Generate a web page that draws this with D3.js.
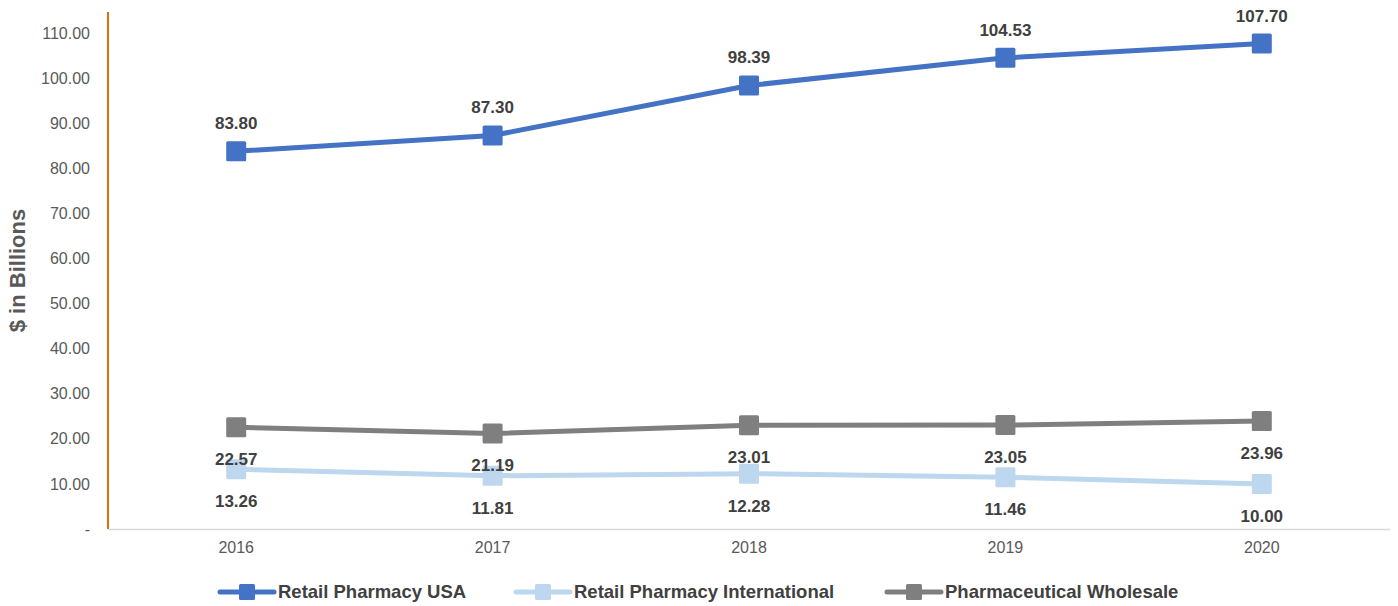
<!DOCTYPE html>
<html>
<head>
<meta charset="utf-8">
<script src="https://cdn.jsdelivr.net/npm/d3@7"></script>
<style>
  body { margin: 0; background: #fff; }
  text { font-family: "Liberation Sans", Arial, sans-serif; }
</style>
</head>
<body>
<div id="chart"></div>
<script>
// chart data
const years = ["2016", "2017", "2018", "2019", "2020"];
const seriesNames = ["Retail Pharmacy USA", "Retail Pharmacy International", "Pharmaceutical Wholesale"];
const retailUSA = [83.80, 87.30, 98.39, 104.53, 107.70];
const retailIntl = [13.26, 11.81, 12.28, 11.46, 10.00];
const wholesale = [22.57, 21.19, 23.01, 23.05, 23.96];
const yTicks = [0, 10, 20, 30, 40, 50, 60, 70, 80, 90, 100, 110];

const colors = ["#4472C4", "#BDD7EE", "#7F7F7F"];
const labelPos = ["above", "below", "below"];
const allSeries = [retailUSA, retailIntl, wholesale];

const width = 1398, height = 606;
const margin = { top: 12, right: 8, bottom: 77, left: 108 };

const svg = d3.select("#chart")
    .append("svg")
    .attr("width", width)
    .attr("height", height);

const x = d3.scaleBand()
    .domain(years)
    .range([margin.left, width - margin.right]);

const y = d3.scaleLinear()
    .domain([0, 114.7])
    .range([height - margin.bottom, margin.top]);

// y axis tick labels
const yAxis = svg.append("g")
    .attr("transform", "translate(" + margin.left + ",0)")
    .call(d3.axisLeft(y).tickValues(yTicks).tickSize(0).tickPadding(18)
        .tickFormat(d => d === 0 ? "-" : d3.format(".2f")(d)));
yAxis.select(".domain").remove();
yAxis.selectAll("text")
    .style("font-size", "16px")
    .attr("fill", "#595959");

// x axis
const xAxis = svg.append("g")
    .attr("transform", "translate(0," + y(0) + ")")
    .call(d3.axisBottom(x).tickSize(0).tickPadding(13));
xAxis.select(".domain").attr("stroke", "#d9d9d9").attr("stroke-width", 1.5);
xAxis.selectAll("text")
    .style("font-size", "16px")
    .attr("fill", "#595959");

// orange vertical axis line
svg.append("line")
    .attr("x1", margin.left).attr("x2", margin.left)
    .attr("y1", margin.top).attr("y2", y(0))
    .attr("stroke", "#E46C0A")
    .attr("stroke-width", 2);

// y axis title
svg.append("text")
    .attr("transform", "translate(25," + ((margin.top + y(0)) / 2) + ") rotate(-90)")
    .attr("text-anchor", "middle")
    .style("font-size", "22px")
    .style("font-weight", "bold")
    .attr("fill", "#595959")
    .text("$ in Billions");

const line = d3.line()
    .x((d, i) => x(years[i]) + x.bandwidth() / 2)
    .y(d => y(d));

// draw wholesale first, then intl, then usa on top
[2, 1, 0].forEach(function (s) {
    const vals = allSeries[s];
    const g = svg.append("g");
    g.append("path")
        .datum(vals)
        .attr("d", line)
        .attr("fill", "none")
        .attr("stroke", colors[s])
        .attr("stroke-width", 5);
    g.selectAll("rect")
        .data(vals)
        .join("rect")
        .attr("x", (d, i) => x(years[i]) + x.bandwidth() / 2 - 10)
        .attr("y", d => y(d) - 10)
        .attr("width", 20)
        .attr("height", 20)
        .attr("rx", 1.5)
        .attr("fill", colors[s]);
});

// data labels
[0, 1, 2].forEach(function (s) {
    svg.append("g")
        .selectAll("text")
        .data(allSeries[s])
        .join("text")
        .attr("x", (d, i) => x(years[i]) + x.bandwidth() / 2)
        .attr("y", d => labelPos[s] === "above" ? y(d) - 28 : y(d) + 32)
        .attr("dy", "0.35em")
        .attr("text-anchor", "middle")
        .style("font-size", "17px")
        .style("font-weight", "bold")
        .attr("fill", "#404040")
        .text(d => d3.format(".2f")(d));
});

// legend
const legendX = [220, 516, 887];
const legend = svg.append("g")
    .selectAll("g")
    .data(seriesNames)
    .join("g")
    .attr("transform", (d, i) => "translate(" + legendX[i] + ",592)");
legend.append("line")
    .attr("x1", 0).attr("x2", 54)
    .attr("stroke", (d, i) => colors[i])
    .attr("stroke-width", 5)
    .attr("stroke-linecap", "round");
legend.append("rect")
    .attr("x", 19).attr("y", -8)
    .attr("width", 16).attr("height", 16)
    .attr("rx", 1.5)
    .attr("fill", (d, i) => colors[i]);
legend.append("text")
    .attr("x", 58)
    .attr("dy", "0.35em")
    .style("font-size", "18.5px")
    .style("font-weight", "bold")
    .attr("fill", "#404040")
    .text(d => d);
</script>
</body>
</html>
